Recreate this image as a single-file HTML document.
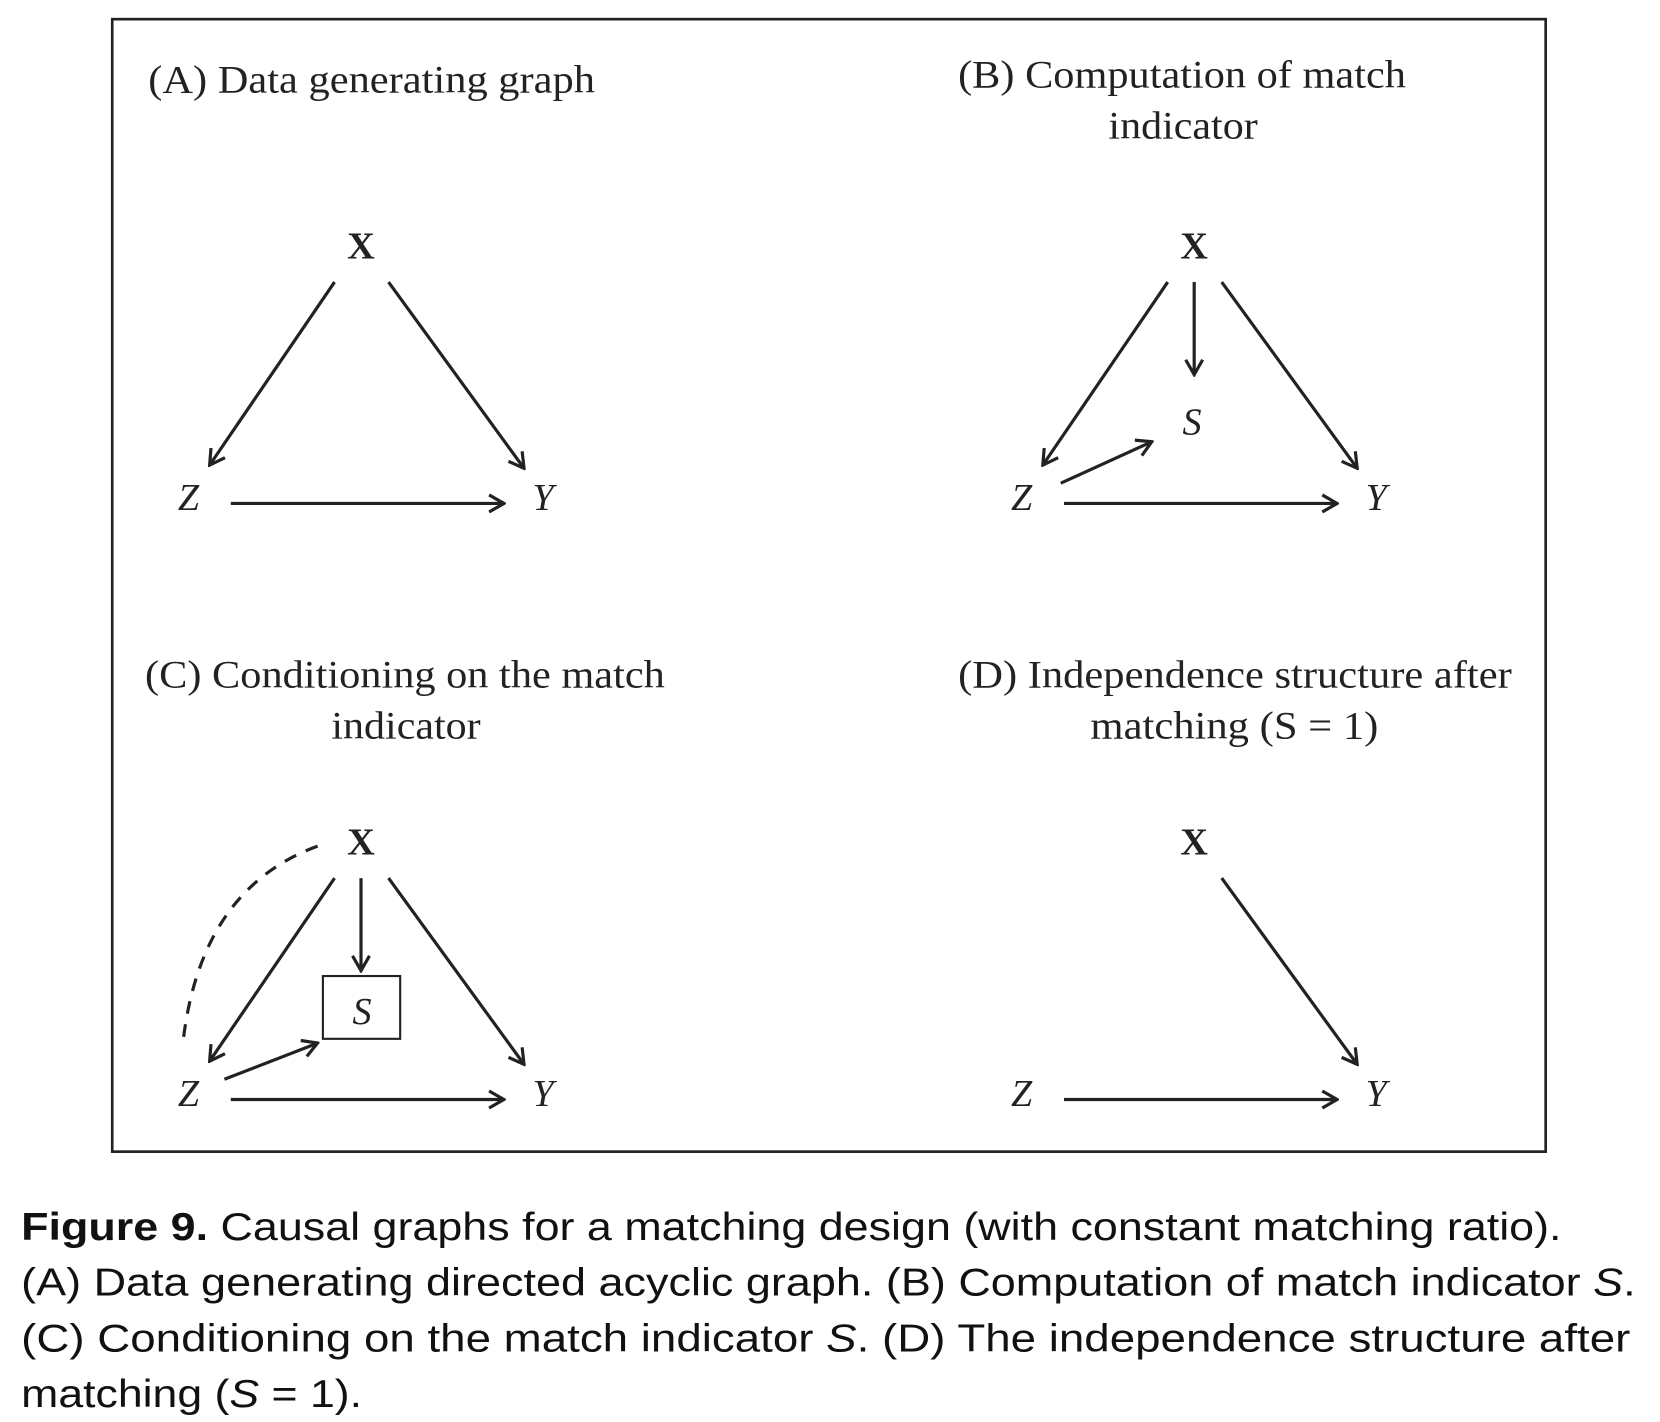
<!DOCTYPE html>
<html><head><style>html,body{margin:0;padding:0;background:#fff}svg{display:block}</style></head>
<body>
<svg width="1660" height="1422" viewBox="0 0 1568 1336" preserveAspectRatio="none" xmlns="http://www.w3.org/2000/svg">
<defs>
<marker id="a" viewBox="0 0 20 20" refX="18" refY="10" markerWidth="20" markerHeight="20" markerUnits="userSpaceOnUse" orient="auto">
<path d="M4,2 L18,10 L4,18" fill="none" stroke="#222" stroke-width="3"/>
</marker>
</defs>
<rect x="106" y="18" width="1354" height="1064" fill="none" stroke="#222" stroke-width="2.5"/>
<g font-family="Liberation Serif, serif" font-size="37" fill="#222" lengthAdjust="spacingAndGlyphs">
<text x="140" y="87" textLength="422" lengthAdjust="spacingAndGlyphs">(A) Data generating graph</text>
<text x="905" y="82" textLength="423" lengthAdjust="spacingAndGlyphs">(B) Computation of match</text>
<text x="1047" y="130" textLength="141" lengthAdjust="spacingAndGlyphs">indicator</text>
<text x="137" y="646" textLength="491" lengthAdjust="spacingAndGlyphs">(C) Conditioning on the match</text>
<text x="313" y="694" textLength="141" lengthAdjust="spacingAndGlyphs">indicator</text>
<text x="905" y="646" textLength="523" lengthAdjust="spacingAndGlyphs">(D) Independence structure after</text>
<text x="1030" y="694" textLength="272" lengthAdjust="spacingAndGlyphs">matching (S = 1)</text>
</g>
<g font-family="Liberation Serif, serif" font-size="36" fill="#222" text-anchor="middle">
<g font-weight="bold">
<text x="341" y="243">X</text><text x="1128" y="243">X</text>
<text x="341" y="803">X</text><text x="1128" y="803">X</text>
</g>
<g font-style="italic">
<text x="178" y="479">Z</text><text x="513" y="479">Y</text>
<text x="965" y="479">Z</text><text x="1300" y="479">Y</text>
<text x="1126" y="408">S</text>
<text x="178" y="1039">Z</text><text x="513" y="1039">Y</text>
<text x="965" y="1039">Z</text><text x="1300" y="1039">Y</text>
<text x="342" y="962">S</text>
</g>
</g>
<g stroke="#222" stroke-width="3" fill="none" marker-end="url(#a)">
<line x1="316" y1="265" x2="198" y2="437"/>
<line x1="367" y1="265" x2="495" y2="440"/>
<line x1="218" y1="473" x2="476" y2="473"/>
<line x1="1103" y1="265" x2="985" y2="437"/>
<line x1="1154" y1="265" x2="1282" y2="440"/>
<line x1="1005" y1="473" x2="1263" y2="473"/>
<line x1="1128" y1="265" x2="1128" y2="352"/>
<line x1="1002" y1="454" x2="1088" y2="415"/>
<line x1="316" y1="825" x2="198" y2="997"/>
<line x1="367" y1="825" x2="495" y2="1000"/>
<line x1="218" y1="1033" x2="476" y2="1033"/>
<line x1="341" y1="825" x2="341" y2="912"/>
<line x1="212" y1="1014" x2="300" y2="980"/>
<line x1="1154" y1="825" x2="1282" y2="1000"/>
<line x1="1005" y1="1033" x2="1263" y2="1033"/>
</g>
<rect x="305" y="917" width="73" height="59" fill="none" stroke="#222" stroke-width="2"/>
<path d="M300,795 Q190,835 173,978" fill="none" stroke="#222" stroke-width="3" stroke-dasharray="12,10"/>
<g font-family="Liberation Sans, sans-serif" font-size="37" fill="#111">
<text x="20" y="1165" textLength="1455" lengthAdjust="spacingAndGlyphs"><tspan font-weight="bold">Figure 9.</tspan> Causal graphs for a matching design (with constant matching ratio).</text>
<text x="20" y="1217" textLength="1525" lengthAdjust="spacingAndGlyphs">(A) Data generating directed acyclic graph. (B) Computation of match indicator <tspan font-style="italic">S</tspan>.</text>
<text x="20" y="1270" textLength="1520" lengthAdjust="spacingAndGlyphs">(C) Conditioning on the match indicator <tspan font-style="italic">S</tspan>. (D) The independence structure after</text>
<text x="20" y="1322" textLength="322" lengthAdjust="spacingAndGlyphs">matching (<tspan font-style="italic">S</tspan> = 1).</text>
</g>
</svg>
</body></html>
